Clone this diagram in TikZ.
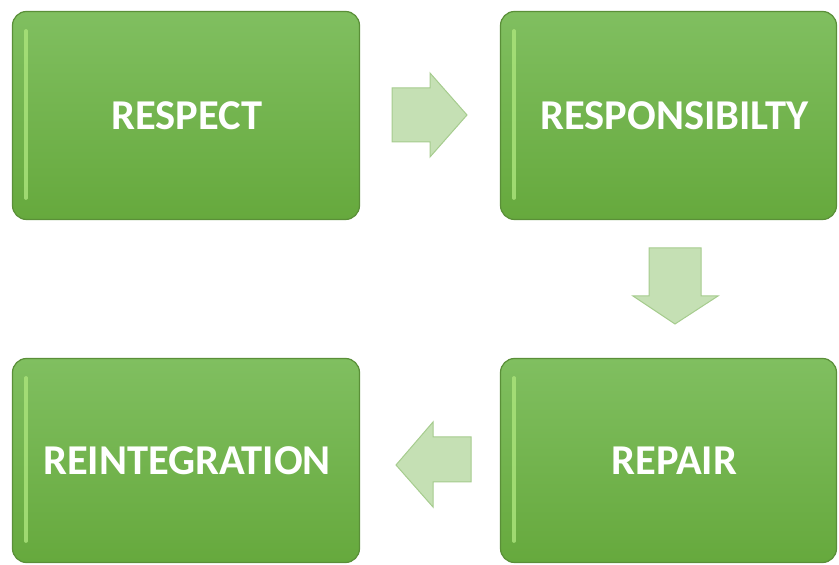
\documentclass[tikz,border=0pt]{standalone}
\usepackage{fontspec}
\setmainfont{Carlito}
\definecolor{boxtop}{HTML}{80BF60}
\definecolor{boxbot}{HTML}{66A93D}
\definecolor{boxedge}{HTML}{5A8F38}
\definecolor{hilite}{HTML}{A9E27A}
\definecolor{arrfill}{HTML}{C5E0B4}
\definecolor{arredge}{HTML}{A6CC8E}
\begin{document}
\begin{tikzpicture}[x=1pt,y=1pt,
  stepbox/.style={draw=boxedge, line width=1.2pt, rounded corners=14pt,
    top color=boxtop, bottom color=boxbot, minimum width=347pt, minimum height=208pt,
    inner sep=0pt},
  steplabel/.style={text=white, font=\bfseries\fontsize{42.5}{48}\selectfont, inner sep=0pt},
  flowarrow/.style={fill=arrfill, draw=arredge, line width=1pt, line join=miter}]
\useasboundingbox (0,0) rectangle (839,565);
% boxes (y = 565 - image y)
\node[stepbox] (respect) at (186,449.5) {};
\node[stepbox, minimum width=336pt] (resp) at (668.5,449.5) {};
\node[stepbox, minimum width=336pt, minimum height=204pt] (repair) at (668.5,104.5) {};
\node[stepbox, minimum height=204pt] (reint) at (186,104.5) {};
% highlight strips
\foreach \n in {respect,resp,repair,reint}{
  \draw[hilite, line width=3.5pt, line cap=round, opacity=0.85]
    ([xshift=14pt,yshift=-20pt]\n.north west) -- ([xshift=14pt,yshift=22pt]\n.south west);
}
% labels
\node[steplabel] (respectL) at ([xshift=1pt]respect.center) {RESPECT};
\node[steplabel] (respL) at ([xshift=6pt]resp.center) {RESPONSIBILTY};
\node[steplabel] (repairL) at ([xshift=6pt]repair.center) {REPAIR};
\node[steplabel] (reintL) at ([xshift=1pt]reint.center) {REINTEGRATION};
% arrows
\draw[flowarrow] (392,477) -- (430,477) -- (430,492) -- (467,450) -- (430,408) -- (430,423) -- (392,423) -- cycle;
\draw[flowarrow] (649,317) -- (701,317) -- (701,269) -- (718,269) -- (675,241) -- (633,269) -- (649,269) -- cycle;
\draw[flowarrow] (471,128) -- (433,128) -- (433,143) -- (396,100) -- (433,58) -- (433,83) -- (471,83) -- cycle;
\end{tikzpicture}
\end{document}
